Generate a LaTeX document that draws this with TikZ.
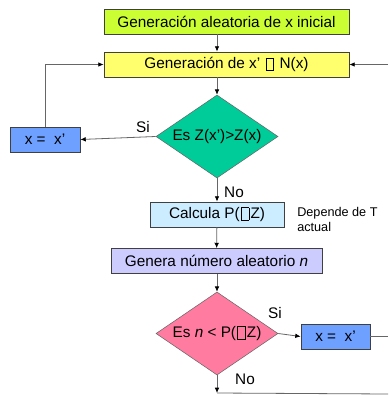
\documentclass[tikz,border=0pt]{standalone}
\usepackage{fontspec}
\setmainfont{Liberation Sans}
\usetikzlibrary{shapes.geometric,arrows.meta}
\definecolor{limebox}{RGB}{204,255,51}
\definecolor{yellowbox}{RGB}{255,255,110}
\definecolor{tealdia}{RGB}{0,204,153}
\definecolor{bluebox}{RGB}{110,160,255}
\definecolor{skybox}{RGB}{204,236,255}
\definecolor{lilacbox}{RGB}{204,204,255}
\definecolor{pinkdia}{RGB}{255,124,160}
\newcommand{\tofu}{{\fboxsep=0pt\fboxrule=0.45pt\kern1pt\raisebox{-0.8pt}{\fbox{\rule{0pt}{8.6pt}\hspace{5.2pt}}}\kern1pt}}
\tikzset{
  box/.style={draw=black!75, line width=0.6pt, rectangle, inner sep=0pt,
    minimum height=18.75pt, font=\fontsize{11.5}{13}\selectfont},
  choice/.style={draw=black!60, line width=0.4pt, diamond, inner sep=0pt,
    minimum width=91.5pt, minimum height=62.25pt, aspect=1.47,
    font=\fontsize{11.5}{13}\selectfont},
  link/.style={draw=black!60, line width=0.6pt},
  arrow/.style={link, -{Latex[length=4pt,width=3.5pt,color=black]}},
  tag/.style={font=\fontsize{11.5}{13}\selectfont, inner sep=0pt}
}
\begin{document}
\begin{tikzpicture}[x=0.75pt, y=-0.75pt]
  \useasboundingbox[fill=white] (0,0) rectangle (388,395);
  % boxes and decisions
  \node[box, fill=limebox, minimum width=183.75pt] (init) at (226.5,21.5) {Generación aleatoria de x inicial};
  \node[box, fill=yellowbox, minimum width=183.75pt] (gen) at (226.5,64.5) {Generación de x’ \tofu\ N(x)};
  \node[choice, fill=tealdia] (cmp) at (217,136.5) {Es Z(x’)>Z(x)};
  \node[box, fill=bluebox, minimum width=52.5pt] (accA) at (45,139.5) {x =\ \ x’};
  \node[box, fill=skybox, minimum width=100.5pt] (prob) at (217,214.5) {Calcula P(\tofu Z)};
  \node[align=left, font=\fontsize{9.5}{11}\selectfont, inner sep=0pt, anchor=north west] (note) at (297,207) {Depende de T\\actual};
  \node[box, fill=lilacbox, minimum width=158.25pt] (rnd) at (216.5,261) {Genera número aleatorio \textit{n}};
  \node[choice, fill=pinkdia] (test) at (217,333.5) {Es \textit{n} < P(\tofu Z)};
  \node[box, fill=bluebox, minimum width=51.75pt] (accB) at (335.5,336.5) {x =\ \ x’};
  % labels
  \node[tag] (si1) at (143,127) {Si};
  \node[tag] (no1) at (234,192) {No};
  \node[tag] (si2) at (275,313) {Si};
  \node[tag] (no2) at (245,379) {No};
  % edge points
  \coordinate (rtop) at (388,64.5);
  \coordinate (rmid) at (388,336.5);
  \coordinate (bend) at (217,393);
  \coordinate (rbot) at (388,394);
  % connectors
  \draw[arrow] (init.south -| cmp) -- (gen.north -| cmp);
  \draw[arrow] (gen.south -| cmp) -- (cmp.north);
  \draw[arrow] (cmp.west) -- (accA.east);
  \draw[arrow] (accA.north) |- (gen.west);
  \draw[arrow] (cmp.south) -- (prob.north);
  \draw[arrow] (prob) -- (rnd);
  \draw[arrow] (rnd.south -| test) -- (test.north);
  \draw[arrow] (test.east) -- (accB.west);
  \draw[link] (accB.east) -- (rmid);
  \draw[arrow] (rtop) -- (gen.east);
  \draw[arrow] (test.south) -- (bend);
  \draw[link] (bend) -- (rbot);
\end{tikzpicture}
\end{document}
